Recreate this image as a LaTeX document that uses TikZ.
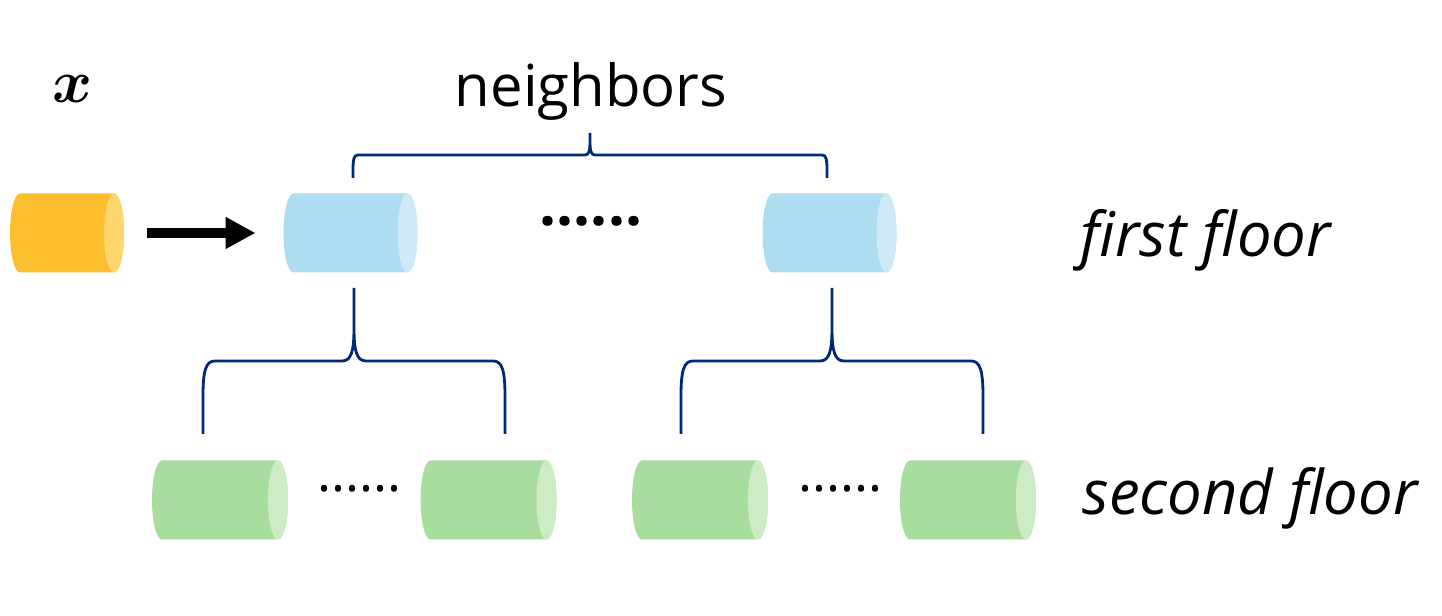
\documentclass[tikz,border=0pt]{standalone}
\usepackage{amsmath,amssymb}
\usepackage{fontspec}
\setmainfont{Open Sans}
\usepackage{xcolor}
\usetikzlibrary{arrows.meta}

\definecolor{xbody}{RGB}{251,190,46}
\definecolor{xend}{RGB}{255,214,110}
\definecolor{nbbody}{RGB}{174,220,240}
\definecolor{nbend}{RGB}{205,234,246}
\definecolor{sfbody}{RGB}{169,221,159}
\definecolor{sfend}{RGB}{205,236,198}
\definecolor{bracecol}{RGB}{0,42,120}

\begin{document}
\begin{tikzpicture}[
    cyl/.style n args={2}{rectangle, inner sep=0pt, outer sep=0pt, minimum height=0.79cm,
      path picture={
        \fill[#1] ([xshift=0.1cm]path picture bounding box.south west)
          arc[start angle=270, end angle=90, x radius=0.1cm, y radius=0.395cm]
          -- ([xshift=-0.1cm]path picture bounding box.north east)
          arc[start angle=90, end angle=-90, x radius=0.1cm, y radius=0.395cm] -- cycle;
        \fill[#2] ([xshift=-0.1cm]path picture bounding box.east)
          ellipse[x radius=0.1cm, y radius=0.395cm];
      }},
    x cyl/.style={cyl={xbody}{xend}, minimum width=1.14cm},
    first cyl/.style={cyl={nbbody}{nbend}, minimum width=1.34cm},
    second cyl/.style={cyl={sfbody}{sfend}, minimum width=1.36cm},
    brace line/.style={draw=bracecol, line width=0.8pt},
    floor label/.style={inner sep=0pt, anchor=base west, font=\fontsize{17.5}{20}\selectfont\itshape},
  ]

  \useasboundingbox (0,0) rectangle (14.42,6.16);

  % labels
  \node[inner sep=0pt, anchor=base] (xlabel) at (0.73,5.13) {\fontsize{18}{20}\selectfont$\boldsymbol{x}$};
  \node[inner sep=0pt, anchor=base, font=\fontsize{16.5}{20}\selectfont] (nb) at (5.91,5.09) {neighbors};
  \node[floor label] (ff) at (10.80,3.59) {first floor};
  \node[floor label] (sf) at (10.82,1.01) {second floor};

  % first floor
  \node[x cyl]     (x0) at (0.67,3.83) {};
  \node[first cyl] (n1) at (3.505,3.83) {};
  \node[first cyl] (n2) at (8.295,3.83) {};
  \node[inner sep=0pt, font=\fontsize{17}{20}\selectfont\bfseries] (d1) at (5.91,3.95) {......};

  \draw[line width=0.1cm, -{Triangle[length=0.3cm, width=0.3cm]},
        shorten <=0.23cm, shorten >=0.28cm] (x0) -- (n1);

  % second floor
  \node[second cyl] (s1) at (2.20,1.16) {};
  \node[second cyl] (s2) at (4.885,1.16) {};
  \node[second cyl] (s3) at (7.00,1.16) {};
  \node[second cyl] (s4) at (9.68,1.16) {};
  \node[inner sep=0pt, font=\fontsize{15}{20}\selectfont] (d2) at (3.595,1.27) {......};
  \node[inner sep=0pt, font=\fontsize{15}{20}\selectfont] (d3) at (8.405,1.27) {......};

  % braces
  \draw[brace line] (3.53,4.38) -- (3.53,4.46) .. controls (3.53,4.57) and (3.54,4.61) .. (3.58,4.61)
    -- (5.85,4.61) .. controls (5.89,4.61) and (5.90,4.65) .. (5.90,4.75) -- (5.90,4.83)
    (8.27,4.38) -- (8.27,4.46) .. controls (8.27,4.57) and (8.26,4.61) .. (8.22,4.61)
    -- (5.95,4.61) .. controls (5.91,4.61) and (5.90,4.65) .. (5.90,4.75) -- (5.90,4.83);
  \draw[brace line] (2.03,1.82) -- (2.03,2.20) .. controls (2.03,2.46) and (2.06,2.55) .. (2.15,2.55)
    -- (3.42,2.55) .. controls (3.51,2.55) and (3.54,2.64) .. (3.54,2.88) -- (3.54,3.28)
    (5.05,1.82) -- (5.05,2.20) .. controls (5.05,2.46) and (5.02,2.55) .. (4.93,2.55)
    -- (3.66,2.55) .. controls (3.57,2.55) and (3.54,2.64) .. (3.54,2.88) -- (3.54,3.28);
  \draw[brace line] (6.81,1.82) -- (6.81,2.20) .. controls (6.81,2.46) and (6.84,2.55) .. (6.93,2.55)
    -- (8.20,2.55) .. controls (8.29,2.55) and (8.32,2.64) .. (8.32,2.88) -- (8.32,3.28)
    (9.83,1.82) -- (9.83,2.20) .. controls (9.83,2.46) and (9.80,2.55) .. (9.71,2.55)
    -- (8.44,2.55) .. controls (8.35,2.55) and (8.32,2.64) .. (8.32,2.88) -- (8.32,3.28);

\end{tikzpicture}
\end{document}
